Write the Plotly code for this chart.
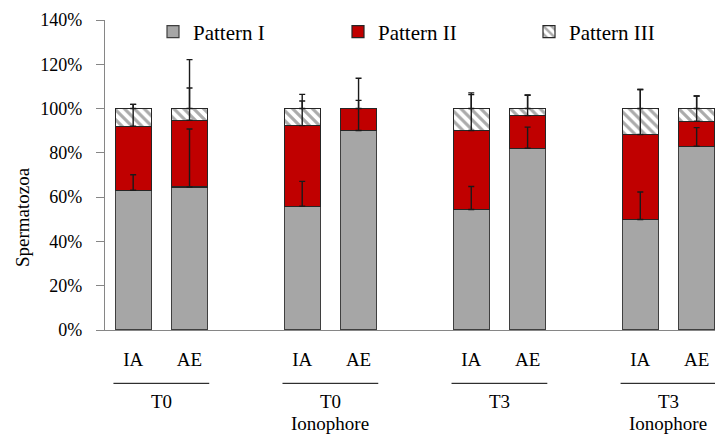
import plotly.graph_objects as go

# ---------------- data ----------------
groups = ["T0", "T0", "T3", "T3"]
group_notes = ["", "Ionophore", "", "Ionophore"]
conditions = ["IA", "AE"]
series_names = ["Pattern I", "Pattern II", "Pattern III"]

pattern1 = [63.1, 64.6, 55.9, 90.1, 54.4, 82.1, 49.9, 83.0]
pattern2 = [28.9, 30.1, 36.4, 9.9, 35.7, 14.7, 38.4, 11.3]
pattern3 = [8.0, 5.3, 7.7, 0.0, 9.9, 3.2, 11.7, 5.7]
err1 = [7.0, 26.2, 11.2, 13.6, 10.4, 9.5, 12.4, 8.4]
err2 = [9.9, 14.6, 11.1, 13.7, 16.2, 9.3, 20.3, 11.4]
err3 = [1.9, 22.1, 6.4, None, 7.1, 6.0, 8.6, 5.7]

y_ticks = [0, 20, 40, 60, 80, 100, 120, 140]
y_tick_labels = ["0%", "20%", "40%", "60%", "80%", "100%", "120%", "140%"]

# ---------------- layout helpers ----------------
FONT = "Liberation Serif"
FS = 18
W, H = 714, 429  # page body has an 8px margin; keep figure inside the viewport
GAP = 1  # empty category between groups
xpos = [g * (len(conditions) + GAP) + j for g in range(len(groups)) for j in range(len(conditions))]
xlabels = [c for _ in groups for c in conditions]

fig = go.Figure()

# bars
fill = [
    dict(color="#A6A6A6", line=dict(color="#3F3F3F", width=1.2)),
    dict(color="#C00000", line=dict(color="#262626", width=1.2)),
    dict(color="rgba(255,255,255,0)", line=dict(color="#262626", width=1.2),
         pattern=dict(shape="\\", fgcolor="#ABABAB", bgcolor="rgba(255,255,255,0)",
                      size=7, solidity=0.45, fillmode="replace")),
]
values = [pattern1, pattern2, pattern3]
legends = ["legend", "legend2", "legend3"]
for name, vals, mk, lg in zip(series_names, values, fill, legends):
    fig.add_trace(go.Bar(x=xpos, y=vals, name=name, marker=mk, width=0.64,
                         legend=lg, showlegend=True))

# error bars (drawn above all bars via scatter layer)
errs = [err1, err2, err3]
cum = [0.0] * len(xpos)
for vals, e in zip(values, errs):
    cum = [c + v for c, v in zip(cum, vals)]
    ys = [c if ev is not None else None for c, ev in zip(cum, e)]
    ea = [ev if ev is not None else 0 for ev in e]
    fig.add_trace(go.Scatter(
        x=xpos, y=ys, mode="markers", marker=dict(size=1, color="rgba(0,0,0,0)"),
        showlegend=False, hoverinfo="skip",
        error_y=dict(type="data", array=ea, symmetric=False, arrayminus=[0] * len(ea),
                     color="#1A1A1A", thickness=1.4, width=3)))

# group separators & labels
line_y = -0.172
for g, (lab, note) in enumerate(zip(groups, group_notes)):
    c = g * (len(conditions) + GAP) + (len(conditions) - 1) / 2
    fig.add_shape(type="line", xref="x", yref="paper", x0=c - 0.85, x1=c + 0.85,
                  y0=line_y, y1=line_y, line=dict(color="#000000", width=1))
    fig.add_annotation(x=c, y=-0.232, xref="x", yref="paper", text=lab, showarrow=False,
                       xanchor="center", yanchor="middle",
                       font=dict(family=FONT, size=FS + 1, color="#000"))
    if note:
        fig.add_annotation(x=c, y=-0.300, xref="x", yref="paper", text=note, showarrow=False,
                           xanchor="center", yanchor="middle",
                           font=dict(family=FONT, size=FS + 1, color="#000"))

# y-axis title
fig.add_annotation(x=-0.1345, y=0.3645, xref="paper", yref="paper", text="Spermatozoa",
                   textangle=-90, showarrow=False, xanchor="center", yanchor="middle",
                   font=dict(family=FONT, size=FS + 1, color="#000"))

leg_common = dict(orientation="h", xref="container", yref="container", yanchor="middle",
                  xanchor="left", y=1 - 24 / H, bgcolor="rgba(0,0,0,0)",
                  font=dict(family=FONT, size=FS + 3, color="#000"), borderwidth=0)

fig.update_layout(
    width=W, height=H,
    margin=dict(l=97, r=0, t=12, b=107, autoexpand=False),
    paper_bgcolor="white", plot_bgcolor="white",
    barmode="stack",
    font=dict(family=FONT, size=FS, color="#000"),
    legend=dict(x=145 / W, **leg_common),
    legend2=dict(x=330 / W, **leg_common),
    legend3=dict(x=521 / W, **leg_common),
    xaxis=dict(range=[-0.5, 10.45], tickvals=xpos, ticktext=xlabels, showgrid=False,
               zeroline=False, showline=True, linecolor="#868686", linewidth=1.3,
               ticks="", ticklabelstandoff=12, tickfont=dict(family=FONT, size=FS + 1, color="#000")),
    yaxis=dict(range=[0, 140], tickvals=y_ticks, ticktext=y_tick_labels, showgrid=False,
               zeroline=False, showline=True, linecolor="#868686", linewidth=1.3,
               ticks="outside", ticklen=8, tickcolor="#868686", tickwidth=1.3,
               ticklabelstandoff=10, tickfont=dict(family=FONT, size=FS, color="#000")),
)

fig.write_html("out.html")
